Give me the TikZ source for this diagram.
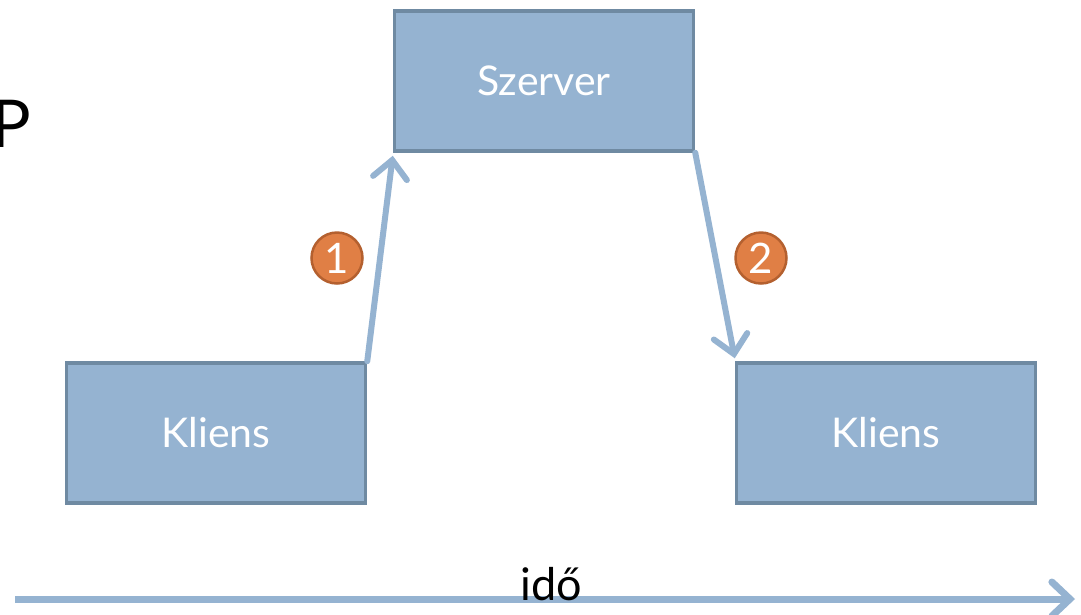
\documentclass[tikz,border=0pt]{standalone}
\usepackage{fontspec}
\setmainfont{Lato}
\usetikzlibrary{arrows.meta}
\definecolor{boxfill}{HTML}{95B3D1}
\definecolor{boxedge}{HTML}{6F8AA2}
\definecolor{linkblue}{HTML}{95B3D1}
\definecolor{badgefill}{HTML}{E07F45}
\definecolor{badgeedge}{HTML}{B4602F}
\tikzset{
  x=1pt, y=-1pt,
  hostbox/.style={draw=boxedge, fill=boxfill, line width=3.5pt,
    minimum width=299pt, minimum height=140pt, inner sep=0pt,
    text=white, font=\fontsize{41}{43}\selectfont},
  badge/.style={circle, draw=badgeedge, fill=badgefill, line width=2.5pt,
    minimum size=51pt, inner sep=0pt, text=white,
    font=\fontsize{42}{44}\selectfont},
  msg/.style={draw=linkblue, line width=6pt, line cap=round,
    -{Straight Barb[length=18pt, width=34pt, line cap=round]}},
}
\begin{document}
\begin{tikzpicture}
\useasboundingbox (0,0) rectangle (1081,614);
\clip (0,0) rectangle (1081,614);
\fill[white] (0,0) rectangle (1081,614);
% partial heading letter at the left edge
\node[anchor=west, inner sep=0pt, font=\fontsize{66}{70}\selectfont] (ttl) at (-9,124) {P};
% hosts
\node[hostbox] (sz) at (544,81) {Szerver};
\node[hostbox] (k1) at (216,433) {Kliens};
\node[hostbox] (k2) at (886,433) {Kliens};
% messages
\draw[msg] (k1.north east) -- ([yshift=-3pt]sz.south west);
\draw[msg] (sz.south east) -- ([yshift=3pt]k2.north west);
\node[badge] (b1) at (337,258) {1};
\node[badge] (b2) at (761,258) {2};
% time axis
\coordinate (t0) at (15,599);
\coordinate (t1) at (1075,599);
\draw[draw=linkblue, line width=7pt,
  -{Straight Barb[length=18pt, width=34pt, line cap=round]}] (t0) -- (t1);
\node[font=\fontsize{45}{47}\selectfont, inner sep=0pt] (ido) at (551,584) {idő};
\end{tikzpicture}
\end{document}
